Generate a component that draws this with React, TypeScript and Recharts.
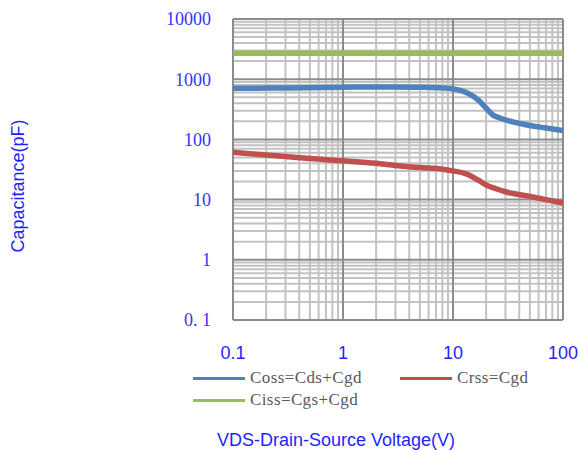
import React from 'react';
import { LineChart, Line, XAxis, YAxis, ReferenceLine, Legend, Label } from 'recharts';

const xTicks = [0.1, 1, 10, 100];
const xTickLabels = ['0.1', '1', '10', '100'];
const yTicks = [0.1, 1, 10, 100, 1000, 10000];
const yTickLabels = ['0. 1', '1', '10', '100', '1000', '10000'];

const xDecades = [0.1, 1, 10];
const yDecades = [0.1, 1, 10, 100, 1000];
const multipliers = [2, 3, 4, 5, 6, 7, 8, 9];

const xMinor = xDecades.flatMap((d) => multipliers.map((m) => +(d * m).toPrecision(3)));
const yMinor = yDecades.flatMap((d) => multipliers.map((m) => +(d * m).toPrecision(3)));

const cissV = [0.1, 1, 10, 100];
const cissC = [2700, 2700, 2700, 2700];

const cossV = [0.1, 0.3, 1, 2, 3, 5, 8, 10, 12, 14, 17, 20, 23, 27, 35, 50, 70, 100];
const cossC = [705, 715, 735, 745, 745, 735, 715, 690, 640, 570, 450, 330, 255, 225, 195, 170, 155, 140];

const crssV = [0.1, 0.2, 0.3, 0.5, 1, 2, 3, 5, 8, 10, 13, 17, 20, 25, 30, 50, 70, 100];
const crssC = [61, 55, 52, 48, 44, 40, 37, 34, 32, 30, 27, 21, 17.5, 15, 13.5, 11.3, 10, 8.8];

const toPts = (xs: number[], ys: number[]) => xs.map((x, i) => ({ x, y: ys[i] }));
const cissData = toPts(cissV, cissC);
const cossData = toPts(cossV, cossC);
const crssData = toPts(crssV, crssC);

const BLUE = '#4F81BD';
const RED = '#C0504D';
const GREEN = '#9BBB59';
const MINOR = '#c2c2c2';
const MAJOR = '#8c8c8c';

const legendItems = [
  { name: 'Coss=Cds+Cgd', color: BLUE, left: 193, top: 367 },
  { name: 'Crss=Cgd', color: RED, left: 400, top: 367 },
  { name: 'Ciss=Cgs+Cgd', color: GREEN, left: 193, top: 389 },
];

const LegendContent = () => (
  <div style={{ position: 'relative', width: 578, height: 450, pointerEvents: 'none' }}>
    {legendItems.map((it) => (
      <div key={it.name} style={{ position: 'absolute', left: it.left, top: it.top, display: 'flex', alignItems: 'center', height: 22 }}>
        <div style={{ width: 52, height: 3, background: it.color, marginRight: 5 }} />
        <span style={{ fontFamily: '"Liberation Serif", "Times New Roman", serif', fontSize: 17, color: '#595959', whiteSpace: 'nowrap', letterSpacing: 0.4 }}>{it.name}</span>
      </div>
    ))}
  </div>
);

const YTitle = () => (
  <text x={18} y={186} transform="rotate(-90, 18, 186)" textAnchor="middle" dominantBaseline="central"
    style={{ fontFamily: '"Liberation Sans", Arial, sans-serif', fontSize: 18, fill: '#1f1fff' }}>
    Capacitance(pF)
  </text>
);

const XTitle = () => (
  <text x={336} y={440} textAnchor="middle" dominantBaseline="central"
    style={{ fontFamily: '"Liberation Sans", Arial, sans-serif', fontSize: 18, fill: '#1f1fff' }}>
    VDS-Drain-Source Voltage(V)
  </text>
);

export default function App() {
  return (
    <div style={{ position: 'absolute', left: 0, top: 0, width: 578, height: 450, background: '#fff' }}>
      <LineChart width={578} height={450} margin={{ top: 19, right: 15, left: 0, bottom: 0 }}>
        <XAxis
          type="number"
          dataKey="x"
          scale="log"
          domain={[0.1, 100]}
          ticks={xTicks}
          allowDataOverflow
          axisLine={false}
          tickLine={false}
          tickSize={0}
          tickMargin={26}
          height={130}
          interval={0}
          tickFormatter={(v: number) => xTickLabels[xTicks.indexOf(v)] ?? String(v)}
          tick={{ fill: '#1f1fff', fontSize: 18, fontFamily: '"Liberation Sans", Arial, sans-serif' }}
        >
          <Label content={<XTitle />} />
        </XAxis>
        <YAxis
          type="number"
          dataKey="y"
          scale="log"
          domain={[0.1, 10000]}
          ticks={yTicks}
          allowDataOverflow
          axisLine={false}
          tickLine={false}
          tickSize={0}
          tickMargin={22}
          width={233}
          interval={0}
          tickFormatter={(v: number) => yTickLabels[yTicks.indexOf(v)] ?? String(v)}
          tick={{ fill: '#3333ff', fontSize: 18, fontFamily: '"Liberation Serif", "Times New Roman", serif' }}
        >
          <Label content={<YTitle />} />
        </YAxis>
        {xMinor.map((v) => (
          <ReferenceLine key={'xm' + v} x={v} stroke={MINOR} strokeWidth={2} ifOverflow="extendDomain" />
        ))}
        {yMinor.map((v) => (
          <ReferenceLine key={'ym' + v} y={v} stroke={MINOR} strokeWidth={2} ifOverflow="extendDomain" />
        ))}
        {xTicks.map((v) => (
          <ReferenceLine key={'xM' + v} x={v} stroke={MAJOR} strokeWidth={2} ifOverflow="extendDomain" />
        ))}
        {yTicks.map((v) => (
          <ReferenceLine key={'yM' + v} y={v} stroke={MAJOR} strokeWidth={2} ifOverflow="extendDomain" />
        ))}
        <Line data={cissData} dataKey="y" type="monotone" stroke={GREEN} strokeWidth={5.5} dot={false} isAnimationActive={false} />
        <Line data={cossData} dataKey="y" type="monotone" stroke={BLUE} strokeWidth={5.5} dot={false} isAnimationActive={false} />
        <Line data={crssData} dataKey="y" type="monotone" stroke={RED} strokeWidth={5.5} dot={false} isAnimationActive={false} />
        <Legend
          layout="horizontal"
          verticalAlign="middle"
          align="center"
          content={<LegendContent />}
          wrapperStyle={{ position: 'absolute', left: 0, top: 0, width: 578, height: 450, margin: 0, padding: 0 }}
        />
      </LineChart>
    </div>
  );
}
